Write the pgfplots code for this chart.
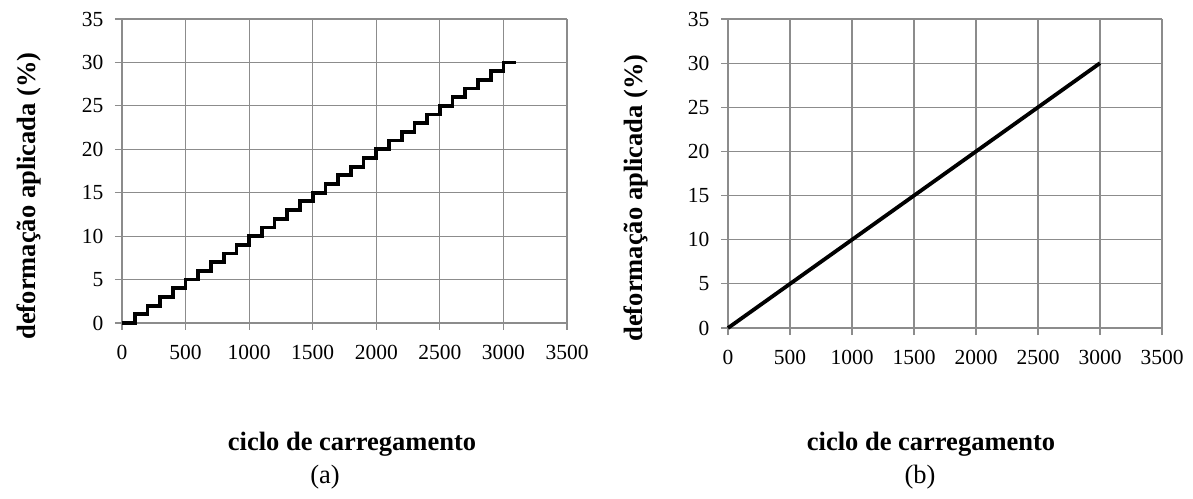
\documentclass[border=0pt]{standalone}
\usepackage{pgfplots}
\pgfplotsset{compat=1.18}
\usepackage{fontspec}
\setmainfont{Liberation Serif}
\begin{document}
\begin{tikzpicture}
\path[use as bounding box] (0pt,0pt) rectangle (1193pt,498pt);
\pgfplotsset{
  myax/.style={
    scale only axis,
    anchor=south west,
    xmin=0,xmax=3500,ymin=0,ymax=35,
    xtick={0,500,...,3500},
    ytick={0,5,...,35},
    grid=major,
    grid style={color=black!45, line width=1.1pt},
    axis lines*=left,
    axis line style={color=black!45, line width=1.1pt},
    tick style={color=black!45, line width=1.1pt},
    tick align=outside,
    major tick length=7pt,
    scaled ticks=false,
    /pgf/number format/1000 sep={},
    /pgf/number format/assume math mode=true,
    tick label style={font=\fontsize{21.5}{24}\selectfont},
    yticklabel style={xshift=-8pt},
    xticklabel style={yshift=-12pt},
    clip=false,
  }
}
\begin{axis}[myax, at={(122pt,175pt)}, width=445pt, height=304pt]
\addplot[const plot, black, line width=3.8pt] coordinates {
(0,0) (100,1) (200,2) (300,3) (400,4) (500,5) (600,6) (700,7) (800,8) (900,9)
(1000,10) (1100,11) (1200,12) (1300,13) (1400,14) (1500,15) (1600,16) (1700,17)
(1800,18) (1900,19) (2000,20) (2100,21) (2200,22) (2300,23) (2400,24) (2500,25)
(2600,26) (2700,27) (2800,28) (2900,29) (3000,30) (3100,30)};
\end{axis}
\begin{axis}[myax, at={(728pt,170pt)}, width=434pt, height=309pt]
\addplot[black, line width=3.8pt] coordinates {(0,0) (3000,30)};
\end{axis}
\node[rotate=90, font=\fontsize{26.5}{28}\selectfont\bfseries] at (29pt,302pt) {deformação aplicada (\%)};
\node[rotate=90, font=\fontsize{26.5}{28}\selectfont\bfseries] at (636pt,300pt) {deformação aplicada (\%)};
\node[font=\fontsize{26.5}{28}\selectfont\bfseries] at (352pt,54pt) {ciclo de carregamento};
\node[font=\fontsize{26.5}{28}\selectfont] at (325pt,21pt) {(a)};
\node[font=\fontsize{26.5}{28}\selectfont\bfseries] at (931pt,54pt) {ciclo de carregamento};
\node[font=\fontsize{26.5}{28}\selectfont] at (920pt,21pt) {(b)};
\end{tikzpicture}
\end{document}
